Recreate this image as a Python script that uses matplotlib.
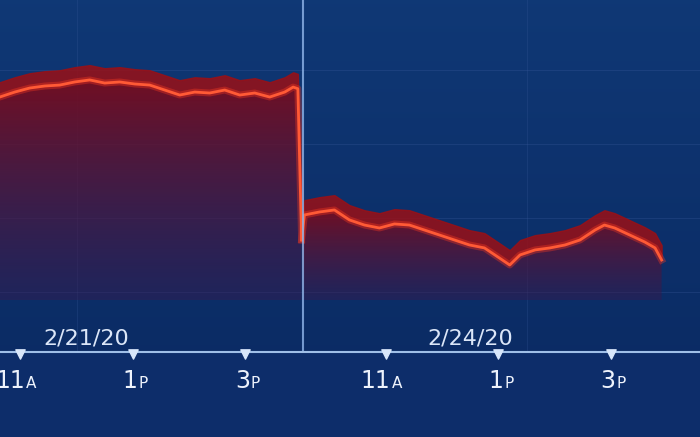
import numpy as np
import matplotlib
matplotlib.use("Agg")
import matplotlib.pyplot as plt
from matplotlib.patches import Polygon

# minutes since 9:30 on 2/21/20 (day 2 continues at 390)
t_day1 = [60, 68, 84, 100, 116, 132, 148, 164, 180, 196, 212, 228, 244, 260, 276, 292, 308,
          324, 340, 356, 372, 381, 386, 388, 390]
p_day1 = [29000, 28998, 29035, 29065, 29080, 29087, 29110, 29125, 29102, 29110, 29095, 29087,
          29050, 29013, 29035, 29028, 29050, 29013, 29028, 28998, 29035, 29072, 29060, 28500, 27936]
t_day2 = [390, 393, 409, 425, 441, 457, 473, 489, 505, 521, 537, 553, 569, 585, 601, 612, 623,
          639, 655, 671, 687, 703, 713, 724, 740, 756, 767, 774]
p_day2 = [27936, 28122, 28144, 28159, 28085, 28047, 28025, 28055, 28047, 28010, 27973, 27936,
          27899, 27877, 27802, 27750, 27825, 27862, 27877, 27899, 27936, 28010, 28047, 28025,
          27973, 27921, 27877, 27787]
tick_pos = [90, 210, 330, 480, 600, 720]
tick_main = ["11", "1", "3", "11", "1", "3"]
tick_suf = ["A", "P", "P", "A", "P", "P"]
date_labels = ["2/21/20", "2/24/20"]
date_pos = [160, 570]

fig = plt.figure(figsize=(7, 4.37), dpi=100)
ax = fig.add_axes([0, 0, 1, 1])
x0, x1 = 68.3, 68.3 + 700 / 0.9375
ytop, ybot = 29719, 29719 - 437 * 7.43
ax.set_xlim(x0, x1); ax.set_ylim(ybot, ytop); ax.axis("off")

# background gradient (top of image = row 0 in extent order given)
g = np.linspace(0, 1, 256)
bg = np.zeros((256, 1, 3))
bg[:, 0, 0] = 0.04 + 0.02 * g
bg[:, 0, 1] = 0.16 + 0.06 * g
bg[:, 0, 2] = 0.38 + 0.08 * g
ax.imshow(bg, extent=[x0, x1, ytop, ybot], aspect="auto", zorder=0)

for yy in [29200, 28650, 28100, 27550]:
    ax.axhline(yy, color="#3a5a9a", lw=0.8, alpha=0.3, zorder=1)
for xx in [150, 390, 630]:
    ax.axvline(xx, color="#3a5a9a", lw=0.8, alpha=0.25, zorder=1)

base = 29719 - 300 * 7.43
grad = np.zeros((256, 1, 4))
gg = np.linspace(0, 1, 256)  # 0 = bottom row of extent (base) after extent mapping
grad[:, 0, 0] = 0.22 + 0.25 * gg
grad[:, 0, 1] = 0.10 - 0.05 * gg
grad[:, 0, 2] = 0.30 - 0.18 * gg
grad[:, 0, 3] = 0.45 + 0.5 * gg

for t, p in [(t_day1, p_day1), (t_day2, p_day2)]:
    t = np.array(t, float); p = np.array(p, float)
    verts = list(zip(t, p)) + [(t[-1], base), (t[0], base)]
    poly = Polygon(verts, closed=True, fc="none", ec="none")
    ax.add_patch(poly)
    im = ax.imshow(grad, extent=[t[0], t[-1], base, p.max()], origin="lower",
                   aspect="auto", zorder=2)
    im.set_clip_path(poly)
    ax.fill_between(t, p, p + 110, color="#9a1016", alpha=0.85, zorder=3)
    ax.plot(t, p, color="#ff3b1f", lw=5, alpha=0.35, zorder=4)
    ax.plot(t, p, color="#ff5a36", lw=2, zorder=5)

ax.axvline(391, color="#8fb4e8", lw=1.5, alpha=0.8, zorder=6)

yax = 29719 - 352 * 7.43
ax.fill_between([x0, x1], ybot, yax, color="#0d2d6a", zorder=6)
ax.axhline(yax, color="#9fbfe8", lw=1.5, zorder=7)
ax.scatter(tick_pos, [yax - 15] * len(tick_pos), marker="v", s=45, color="#d8e6fa", zorder=8)
ty = 29719 - 388 * 7.43
for xp, m, s in zip(tick_pos, tick_main, tick_suf):
    ax.text(xp + 5, ty, m, color="#eef3fc", fontsize=17, ha="right", va="baseline", zorder=9)
    ax.text(xp + 6, ty, s, color="#eef3fc", fontsize=11, ha="left", va="baseline", zorder=9)
dy = 29719 - 345 * 7.43
for xp, d in zip(date_pos, date_labels):
    ax.text(xp, dy, d, color="#dbe6f8", fontsize=16, ha="center", va="baseline", zorder=9)

fig.savefig("out.png", dpi=100)
